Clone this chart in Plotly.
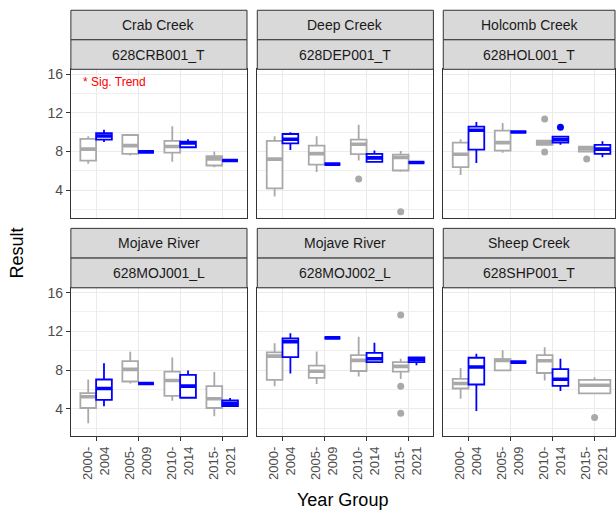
import plotly.graph_objects as go

# ---------------- data ----------------
YEAR_GROUPS = ["2000-2004", "2005-2009", "2010-2014", "2015-2021"]
CREEKS = ["Crab Creek", "Deep Creek", "Holcomb Creek", "Mojave River", "Mojave River", "Sheep Creek"]
STATIONS = ["628CRB001_T", "628DEP001_T", "628HOL001_T", "628MOJ001_L", "628MOJ002_L", "628SHP001_T"]

# grey boxes (all results), one row per station, one value per year group
GREY_LO = [[6.71, 7.57, 6.92, 6.37], [3.34, 5.86, 7.05, 5.89], [5.55, 7.85, 8.67, 7.98],
           [2.50, 6.60, 4.82, 3.22], [6.33, 6.56, 7.32, 7.08], [5.03, 7.97, 6.91, 5.58]]
GREY_Q1 = [[7.05, 7.74, 7.88, 6.54], [4.17, 6.64, 7.71, 6.02], [6.37, 8.08, 8.67, 7.98],
           [4.07, 6.81, 5.33, 4.07], [6.97, 7.18, 7.90, 7.84], [6.09, 7.97, 7.69, 5.58]]
GREY_MED = [[8.23, 8.60, 8.50, 7.23], [7.20, 7.77, 8.74, 7.36], [7.71, 8.91, 8.90, 8.26],
            [5.23, 8.07, 6.91, 5.03], [9.44, 7.87, 9.00, 8.38], [6.60, 9.00, 8.96, 6.43]]
GREY_Q3 = [[9.29, 9.70, 9.08, 7.50], [9.08, 8.60, 9.22, 7.67], [8.91, 10.15, 9.11, 8.50],
           [5.61, 8.92, 7.84, 6.33], [9.82, 8.45, 9.54, 8.82], [7.08, 9.13, 9.54, 6.97]]
GREY_HI = [[9.57, 9.70, 10.60, 7.98], [9.57, 9.57, 10.77, 8.05], [9.26, 10.94, 9.11, 8.50],
           [7.02, 9.89, 9.30, 7.80], [10.77, 9.92, 11.43, 9.17], [8.20, 10.05, 10.36, 7.25]]
GREY_OUT = [[[], [], [], []], [[], [], [5.13], [1.76]], [[], [], [11.35, 7.95], [7.20]],
            [[], [], [], []], [[], [], [], [13.68, 6.33, 3.53]], [[], [], [], [3.08]]]

# blue boxes
BLUE_LO = [[8.98, 7.95, 8.43, 7.05], [8.15, 6.68, 6.92, 6.85], [6.81, 10.01, 8.70, 7.40],
           [4.25, 6.60, 5.06, 4.28], [7.63, 11.32, 8.82, 8.48], [3.76, 8.82, 5.82, None]]
BLUE_Q1 = [[9.22, 7.95, 8.43, 7.05], [8.84, 6.68, 6.92, 6.85], [8.19, 10.01, 8.91, 7.74],
           [4.92, 6.60, 5.13, 4.28], [9.33, 11.32, 8.82, 8.82], [6.50, 8.82, 6.36, None]]
BLUE_MED = [[9.60, 7.95, 8.88, 7.05], [9.26, 6.68, 7.33, 6.85], [10.19, 10.01, 9.22, 8.23],
            [6.09, 6.60, 6.33, 4.55], [10.94, 11.32, 9.17, 9.10], [8.31, 8.82, 7.05, None]]
BLUE_Q3 = [[9.88, 7.95, 9.00, 7.05], [9.80, 6.68, 7.74, 6.85], [10.56, 10.01, 9.53, 8.67],
           [7.02, 6.60, 7.49, 4.86], [11.28, 11.32, 9.78, 9.30], [9.27, 8.82, 8.10, None]]
BLUE_HI = [[10.25, 7.95, 9.26, 7.05], [9.98, 6.68, 8.08, 6.85], [11.04, 10.01, 9.53, 9.05],
           [8.69, 6.60, 7.94, 5.10], [11.80, 11.32, 10.81, 9.30], [9.68, 8.82, 9.17, None]]
BLUE_OUT = [[[], [], [], []], [[], [], [], []], [[], [], [10.50], []],
            [[], [], [], []], [[], [], [], []], [[], [], [], []]]

Y_TICKS = [4, 8, 12, 16]
NOTE = "* Sig. Trend"

# ---------------- layout geometry (px) ----------------
W, H = 616, 513
COLS = [(71.0, 247.4), (257.7, 434.1), (444.0, 616.0)]
ROWS = [(66.7, 216.0), (286.5, 436.0)]          # panel top/bottom
STRIPS = [(7.3, 37.0, 66.7), (226.7, 256.6, 286.5)]
CAT_PX = 42.1                                    # px per category unit
YR = [1.13, 16.5]

GREY = "#A9A9A9"
BLUE = "#0000FF"
FONT = "Liberation Sans, Arial, sans-serif"
BOX_LW = 1.8
MED_LW = 3.6

fig = go.Figure()
layout = dict(
    width=W, height=H, autosize=False,
    margin=dict(l=0, r=0, t=0, b=0),
    paper_bgcolor="white", plot_bgcolor="white",
    boxmode="group", boxgap=0.25, boxgroupgap=0.0,
    showlegend=False,
    font=dict(family=FONT),
)
shapes, annotations = [], []


def px2x(p):
    return p / W


def px2y(p):
    return 1 - p / H


def add_box(cat, lo, q1, med, q3, hi, out, color, og, ag, xa, ya):
    kw = {}
    if out:
        kw["y"] = [out]
    common = dict(boxpoints="outliers", jitter=0, pointpos=0, whiskerwidth=0,
                  fillcolor="white", marker=dict(color=color, size=7, line=dict(width=0)),
                  offsetgroup=og, alignmentgroup=ag, xaxis=xa, yaxis=ya, hoverinfo="skip")
    fig.add_trace(go.Box(
        x=[cat], lowerfence=[lo], q1=[q1], median=[med], q3=[q3], upperfence=[hi],
        line=dict(color=color, width=BOX_LW), **common, **kw,
    ))
    # thicker median bar, drawn on top at the same dodge position
    fig.add_trace(go.Box(
        x=[cat], lowerfence=[med], q1=[med], median=[med], q3=[med], upperfence=[med],
        line=dict(color=color, width=MED_LW), **common,
    ))


for k in range(6):
    r, c = divmod(k, 3)
    sfx = "" if k == 0 else str(k + 1)
    xa, ya = "x" + sfx, "y" + sfx
    x0p, x1p = COLS[c]
    t0p, b0p = ROWS[r]

    for i, cat in enumerate(YEAR_GROUPS):
        has_blue = BLUE_Q1[k][i] is not None
        og, ag = ("grey", "main") if has_blue else ("solo", "solo")
        add_box(cat, GREY_LO[k][i], GREY_Q1[k][i], GREY_MED[k][i], GREY_Q3[k][i], GREY_HI[k][i],
                GREY_OUT[k][i], GREY, og, ag, xa, ya)
        if has_blue:
            add_box(cat, BLUE_LO[k][i], BLUE_Q1[k][i], BLUE_MED[k][i], BLUE_Q3[k][i], BLUE_HI[k][i],
                    BLUE_OUT[k][i], BLUE, "blue", "main", xa, ya)

    width_units = (x1p - x0p) / CAT_PX
    layout["xaxis" + sfx] = dict(
        domain=[px2x(x0p), px2x(x1p)], anchor=ya,
        type="category", categoryorder="array", categoryarray=YEAR_GROUPS,
        tickvals=YEAR_GROUPS, ticktext=[g.replace("-", "-<br>") for g in YEAR_GROUPS],
        range=[-0.6, -0.6 + width_units],
        showgrid=True, gridcolor="#EBEBEB", gridwidth=1.1,
        showline=True, mirror=True, linecolor="#333333", linewidth=1,
        zeroline=False,
        ticks="outside" if r == 1 else "", ticklen=4, tickcolor="#333333",
        showticklabels=(r == 1), tickangle=-90,
        tickfont=dict(size=13, color="#4D4D4D", family=FONT),
    )
    layout["yaxis" + sfx] = dict(
        domain=[px2y(b0p), px2y(t0p)], anchor=xa,
        range=YR, tickvals=Y_TICKS,
        showgrid=True, gridcolor="#EBEBEB", gridwidth=1.1,
        minor=dict(dtick=2, tick0=0, showgrid=True, gridcolor="#EFEFEF", gridwidth=0.6),
        showline=True, mirror=True, linecolor="#333333", linewidth=1,
        zeroline=False,
        ticks="outside" if c == 0 else "", ticklen=4, tickcolor="#333333",
        showticklabels=(c == 0),
        tickfont=dict(size=14, color="#4D4D4D", family=FONT),
    )

    # strips
    s_top, s_mid, s_bot = STRIPS[r]
    for (a, b), label in (((s_top, s_mid), CREEKS[k]), ((s_mid, s_bot), STATIONS[k])):
        shapes.append(dict(type="rect", xref="paper", yref="paper",
                           x0=px2x(x0p), x1=px2x(x1p), y0=px2y(b), y1=px2y(a),
                           fillcolor="#D9D9D9", line=dict(color="#333333", width=1), layer="above"))
        annotations.append(dict(text=label, xref="paper", yref="paper",
                                x=px2x((x0p + min(x1p, x0p + 176.4)) / 2), y=px2y((a + b) / 2),
                                xanchor="center", yanchor="middle", showarrow=False,
                                font=dict(size=14, color="#1A1A1A", family=FONT)))

annotations.append(dict(text=NOTE, xref="x domain", yref="y domain", x=0.055, y=0.913,
                        xanchor="left", yanchor="middle", showarrow=False,
                        font=dict(size=12, color="#FF0000", family=FONT)))
annotations.append(dict(text="Result", xref="paper", yref="paper", x=px2x(17), y=px2y(251),
                        textangle=-90, xanchor="center", yanchor="middle", showarrow=False,
                        font=dict(size=18, color="black", family=FONT)))
annotations.append(dict(text="Year Group", xref="paper", yref="paper", x=px2x(343.5), y=px2y(500),
                        xanchor="center", yanchor="middle", showarrow=False,
                        font=dict(size=18, color="black", family=FONT)))

layout["shapes"] = shapes
layout["annotations"] = annotations
fig.update_layout(**layout)
fig.write_html("out.html", config={"displayModeBar": False},
               post_script="document.body.style.margin='0';document.body.style.overflow='hidden';")
